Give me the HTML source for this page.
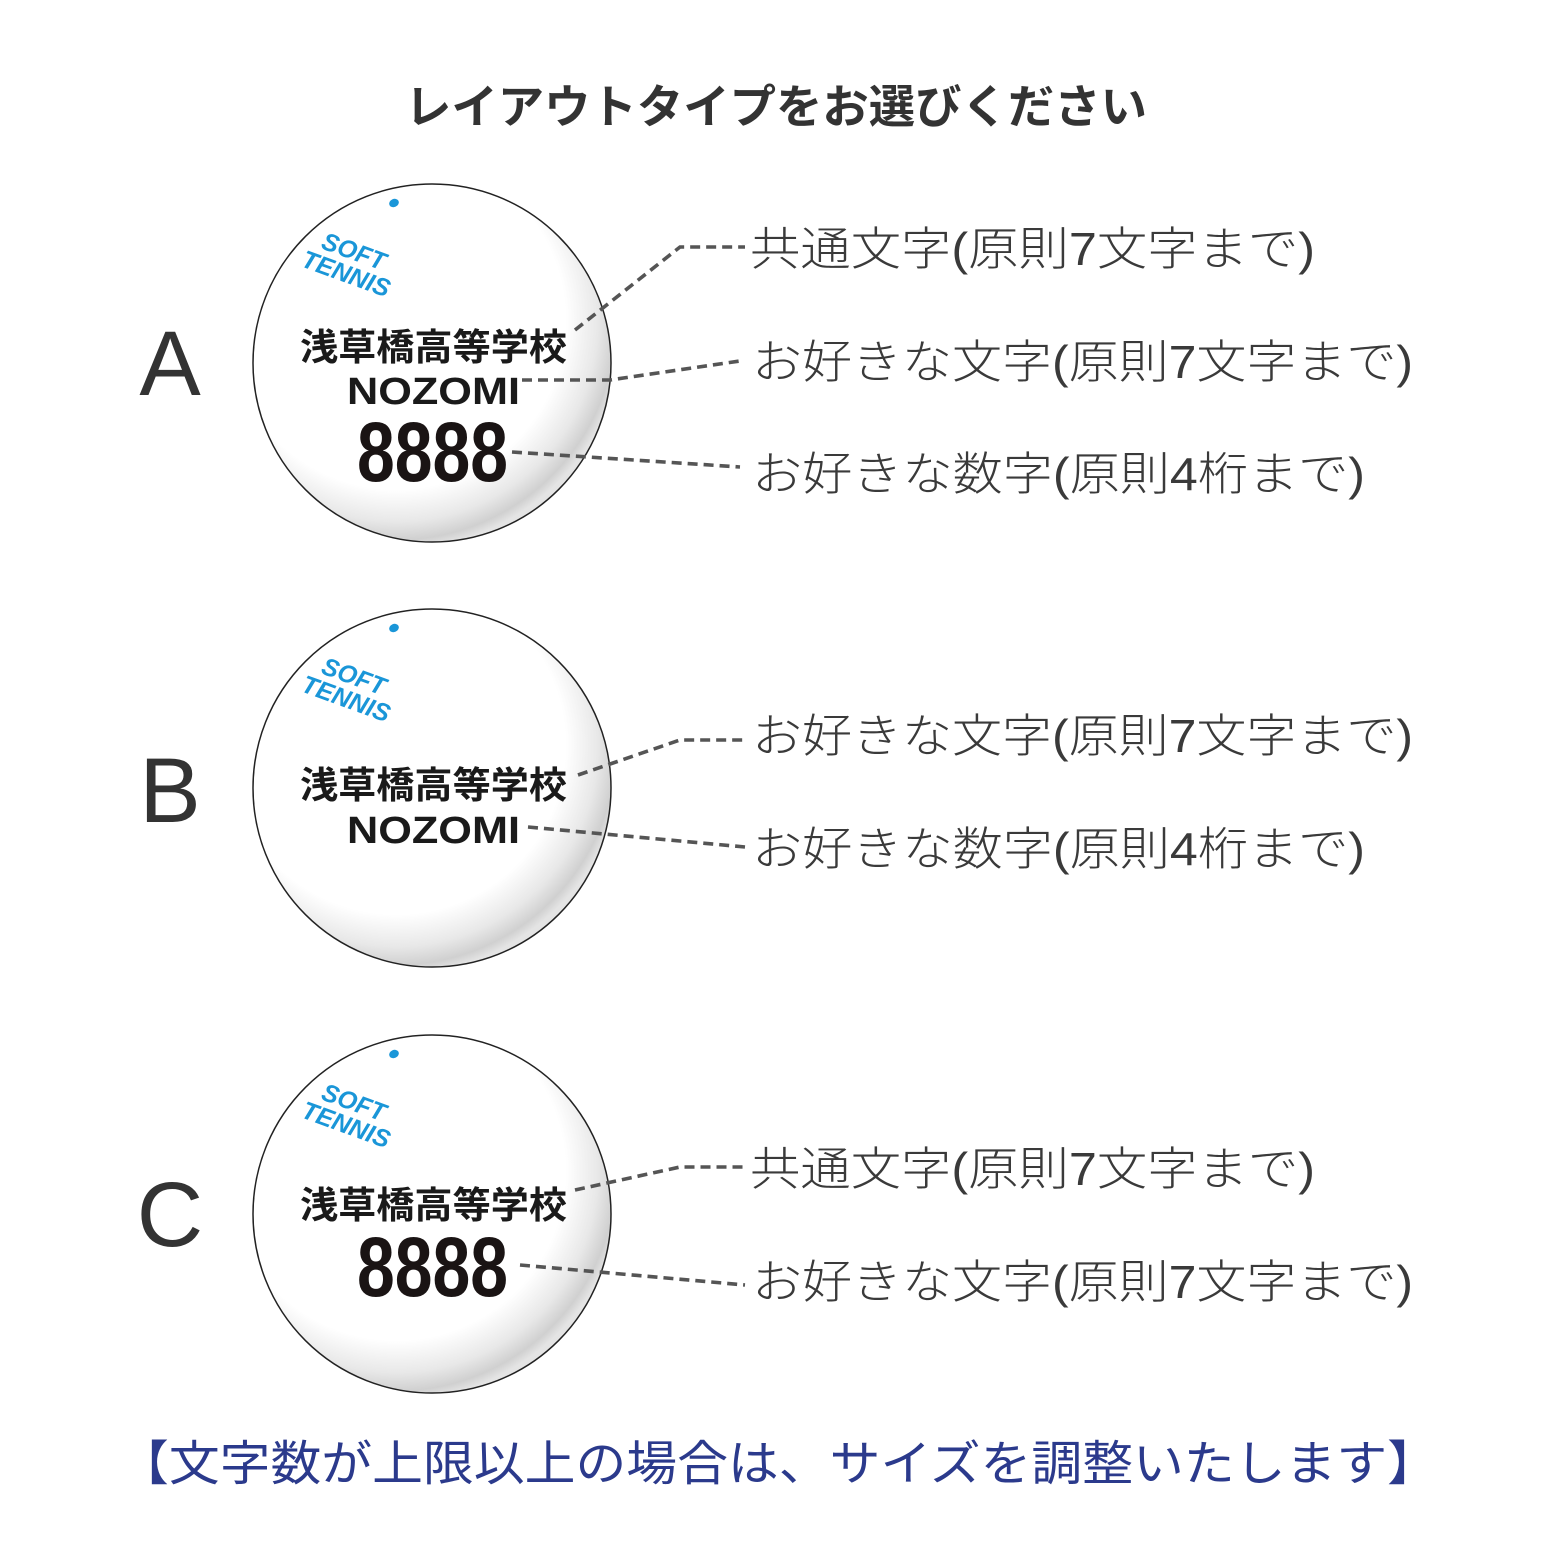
<!DOCTYPE html>
<html><head><meta charset="utf-8"><style>
html,body{margin:0;padding:0;background:#fff}
svg{display:block}
.lab{font-family:"Liberation Sans","Noto Sans CJK JP",sans-serif;font-size:46px;fill:#3a3a3a;font-weight:300}
.big{font-family:"Liberation Sans","Noto Sans CJK JP",sans-serif;font-size:92px;fill:#333;font-weight:300}
.jp{font-family:"Liberation Sans","Noto Sans CJK JP",sans-serif;font-size:37px;font-weight:bold;fill:#1a1a1a}
.nz{font-family:"Liberation Sans","DejaVu Sans",sans-serif;font-size:38px;font-weight:bold;fill:#1a1a1a}
.num{font-family:"Liberation Sans Narrow","Liberation Sans",sans-serif;font-size:84px;font-weight:bold;fill:#1a1414}
.st{font-family:"Liberation Sans",sans-serif;font-size:25px;font-weight:bold;font-style:italic;fill:#1a96d8}
.dl{fill:none;stroke:#555;stroke-width:3.6;stroke-dasharray:10 6}
</style></head><body>
<svg width="1552" height="1556" viewBox="0 0 1552 1556" xmlns="http://www.w3.org/2000/svg">
<defs>
<radialGradient id="g" cx="0.4" cy="0.38" r="0.64">
<stop offset="0.74" stop-color="#fff"/>
<stop offset="0.88" stop-color="#e8e8e8"/>
<stop offset="0.96" stop-color="#d0d0d0"/>
<stop offset="1" stop-color="#e4e4e4"/>
</radialGradient>
<g id="ball">
<circle cx="0" cy="0" r="179" fill="url(#g)" stroke="#222" stroke-width="1.5"/>
<ellipse cx="-38" cy="-160" rx="5" ry="4" fill="#1a96d8" transform="rotate(-25 -38 -160)"/>
<text class="st" transform="translate(-112 -115) rotate(20)" textLength="66" lengthAdjust="spacingAndGlyphs">SOFT</text>
<text class="st" transform="translate(-132 -97) rotate(20)" textLength="92" lengthAdjust="spacingAndGlyphs">TENNIS</text>
</g>
</defs>
<text x="776" y="123" text-anchor="middle" font-family="Liberation Sans,Noto Sans CJK JP,sans-serif" font-size="46" font-weight="bold" fill="#333" textLength="742" lengthAdjust="spacingAndGlyphs">レイアウトタイプをお選びください</text>

<!-- A -->
<use href="#ball" x="432" y="363"/>
<text class="big" x="170" y="395" text-anchor="middle">A</text>
<text class="jp" x="300" y="360" textLength="267" lengthAdjust="spacingAndGlyphs">浅草橋高等学校</text>
<text class="nz" x="347" y="404" textLength="173" lengthAdjust="spacingAndGlyphs">NOZOMI</text>
<text class="num" x="357" y="481" textLength="151" lengthAdjust="spacingAndGlyphs">8888</text>
<polyline class="dl" points="575,330 680,247 745,247"/>
<polyline class="dl" points="522,380 610,380 740,361"/>
<polyline class="dl" points="512,452 740,467"/>
<text class="lab" x="750" y="265" textLength="565" lengthAdjust="spacingAndGlyphs">共通文字(原則7文字まで)</text>
<text class="lab" x="752" y="378" textLength="661" lengthAdjust="spacingAndGlyphs">お好きな文字(原則7文字まで)</text>
<text class="lab" x="752" y="490" textLength="613" lengthAdjust="spacingAndGlyphs">お好きな数字(原則4桁まで)</text>

<!-- B -->
<use href="#ball" x="432" y="788"/>
<text class="big" x="170" y="822" text-anchor="middle">B</text>
<text class="jp" x="300" y="798" textLength="267" lengthAdjust="spacingAndGlyphs">浅草橋高等学校</text>
<text class="nz" x="347" y="843" textLength="173" lengthAdjust="spacingAndGlyphs">NOZOMI</text>
<polyline class="dl" points="578,775 680,740 745,740"/>
<polyline class="dl" points="528,827 745,847"/>
<text class="lab" x="752" y="752" textLength="661" lengthAdjust="spacingAndGlyphs">お好きな文字(原則7文字まで)</text>
<text class="lab" x="752" y="865" textLength="613" lengthAdjust="spacingAndGlyphs">お好きな数字(原則4桁まで)</text>

<!-- C -->
<use href="#ball" x="432" y="1214"/>
<text class="big" x="170" y="1246" text-anchor="middle">C</text>
<text class="jp" x="300" y="1218" textLength="267" lengthAdjust="spacingAndGlyphs">浅草橋高等学校</text>
<text class="num" x="357" y="1296" textLength="151" lengthAdjust="spacingAndGlyphs">8888</text>
<polyline class="dl" points="575,1190 680,1167 745,1167"/>
<polyline class="dl" points="520,1265 745,1285"/>
<text class="lab" x="750" y="1185" textLength="565" lengthAdjust="spacingAndGlyphs">共通文字(原則7文字まで)</text>
<text class="lab" x="752" y="1298" textLength="661" lengthAdjust="spacingAndGlyphs">お好きな文字(原則7文字まで)</text>

<text x="118" y="1480" font-family="Liberation Sans,Noto Sans CJK JP,sans-serif" font-size="48" fill="#2b3a8c" textLength="1320" lengthAdjust="spacingAndGlyphs">【文字数が上限以上の場合は、サイズを調整いたします】</text>
</svg>
</body></html>
